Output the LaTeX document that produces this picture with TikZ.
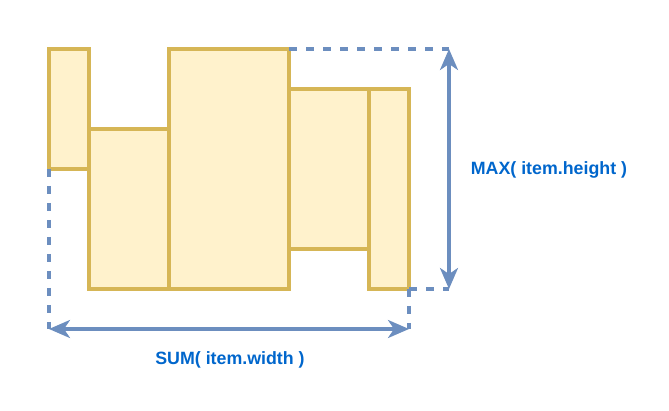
\documentclass[tikz,border=0pt]{standalone}
\usepackage{fontspec}
\setmainfont{Liberation Sans}
\usetikzlibrary{arrows.meta}
\definecolor{itemfill}{HTML}{FFF2CC}
\definecolor{itemdraw}{HTML}{D6B656}
\definecolor{dimblue}{HTML}{6C8EBF}
\definecolor{labelblue}{HTML}{0066CC}
\tikzset{
  item/.style={draw=itemdraw, fill=itemfill, line width=3.2pt, inner sep=0pt, outer sep=0pt, rectangle},
  dimguide/.style={draw=dimblue, line width=3.2pt, dash pattern=on 8pt off 9pt},
  dimarrow/.style={draw=dimblue, line width=3.2pt, {Stealth[length=21pt,width=18pt,inset=6pt]}-{Stealth[length=21pt,width=18pt,inset=6pt]}},
  dimlabel/.style={text=labelblue, font=\bfseries\fontsize{17.8}{20}\selectfont, inner sep=0pt}
}
\begin{document}
\begin{tikzpicture}[x=1pt,y=-1pt]
\useasboundingbox (0,0) rectangle (669,411);
% items
\node[item, minimum width=40pt, minimum height=120pt] (r1) at (69,109) {};
\node[item, minimum width=80pt, minimum height=160pt] (r2) at (129,209) {};
\node[item, minimum width=120pt, minimum height=240pt] (r3) at (229,169) {};
\node[item, minimum width=80pt, minimum height=160pt] (r4) at (329,169) {};
\node[item, minimum width=40pt, minimum height=200pt] (r5) at (389,189) {};
% dimension coordinates
\coordinate (htop) at (449,49);
\coordinate (hbot) at (449,289);
\coordinate (wleft) at (49,329);
\coordinate (wright) at (409,329);
% guides
\draw[dimguide] (r3.north east) -- (htop);
\draw[dimguide] (r5.south east) -- (hbot);
\draw[dimguide] (r1.south west) -- (wleft);
\draw[dimguide] (r5.south east) -- (wright);
% arrows
\draw[dimarrow] (htop) -- (hbot);
\draw[dimarrow] (wleft) -- (wright);
% labels
\node[dimlabel] (maxlabel) at (549,170) {MAX( item.height )};
\node[dimlabel] (sumlabel) at (230,360) {SUM( item.width )};
\end{tikzpicture}
\end{document}
